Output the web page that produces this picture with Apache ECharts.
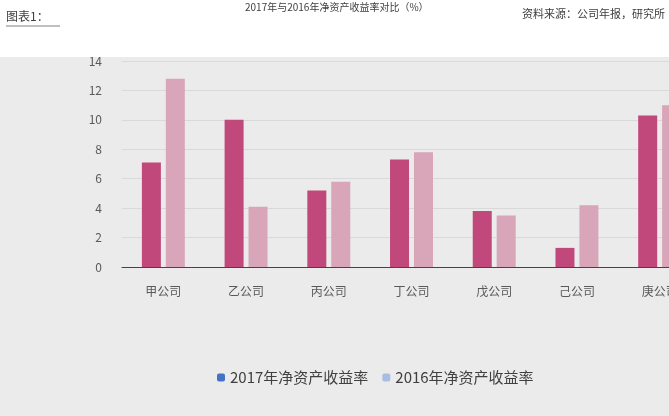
<!DOCTYPE html>
<html><head><meta charset="utf-8">
<script src="https://cdn.jsdelivr.net/npm/echarts@6/dist/echarts.min.js"></script>
<style>html,body{margin:0;padding:0;background:#ebebeb;}#c{width:669px;height:416px;}</style>
</head><body><div id="c"></div>
<script>
var categories = ['甲公司', '乙公司', '丙公司', '丁公司', '戊公司', '己公司', '庚公司'];
var roe2017 = [7.1, 10.0, 5.2, 7.3, 3.8, 1.3, 10.3];
var roe2016 = [12.8, 4.1, 5.8, 7.8, 3.5, 4.2, 11.0];
var yTicks = { min: 0, max: 14, interval: 2 };
var seriesNames = ['2017年净资产收益率', '2016年净资产收益率'];

var chart = echarts.init(document.getElementById('c'));
var font = '"Noto Sans CJK SC", "Noto Sans", sans-serif';
chart.setOption({
  backgroundColor: '#ebebeb',
  animation: false,
  textStyle: { fontFamily: font },
  graphic: [
    { type: 'rect', left: 0, top: 0, shape: { width: 669, height: 57 }, style: { fill: '#ffffff' }, z: -10 },
    { type: 'text', left: 6, top: 10, style: { text: '图表1：', fill: '#404040', font: '12px ' + font } },
    { type: 'line', shape: { x1: 6, y1: 26, x2: 60, y2: 26 }, style: { stroke: '#808080', lineWidth: 1 } },
    { type: 'text', left: 245, top: 2, style: { text: '2017年与2016年净资产收益率对比（%）', fill: '#404040', font: '10px ' + font } },
    { type: 'text', right: 4, top: 8, style: { text: '资料来源：公司年报，研究所', fill: '#404040', font: '11px ' + font } }
  ],
  grid: { left: 122, width: 579, top: 61, bottom: 149, containLabel: false, outerBoundsMode: 'none' },
  legend: {
    bottom: 26, left: 212, itemWidth: 8, itemHeight: 8, itemGap: 14,
    textStyle: { color: '#404040', fontSize: 15 },
    data: [
      { name: seriesNames[0], itemStyle: { color: '#4472c4' } },
      { name: seriesNames[1], itemStyle: { color: '#a9bde3' } }
    ]
  },
  xAxis: {
    type: 'category', data: categories,
    axisLine: { lineStyle: { color: '#444444', width: 1 } },
    axisTick: { show: false },
    axisLabel: { color: '#595959', fontSize: 12, margin: 18 }
  },
  yAxis: {
    type: 'value', min: yTicks.min, max: yTicks.max, interval: yTicks.interval,
    axisLine: { show: false }, axisTick: { show: false },
    axisLabel: { color: '#595959', fontSize: 12, margin: 20 },
    splitLine: { lineStyle: { color: '#d9d9d9' } }
  },
  series: [
    { name: seriesNames[0], type: 'bar', data: roe2017, barWidth: 19, barGap: '26%', itemStyle: { color: '#c0487a' } },
    { name: seriesNames[1], type: 'bar', data: roe2016, barWidth: 19, itemStyle: { color: '#d9a5b8' } }
  ]
});
</script></body></html>
